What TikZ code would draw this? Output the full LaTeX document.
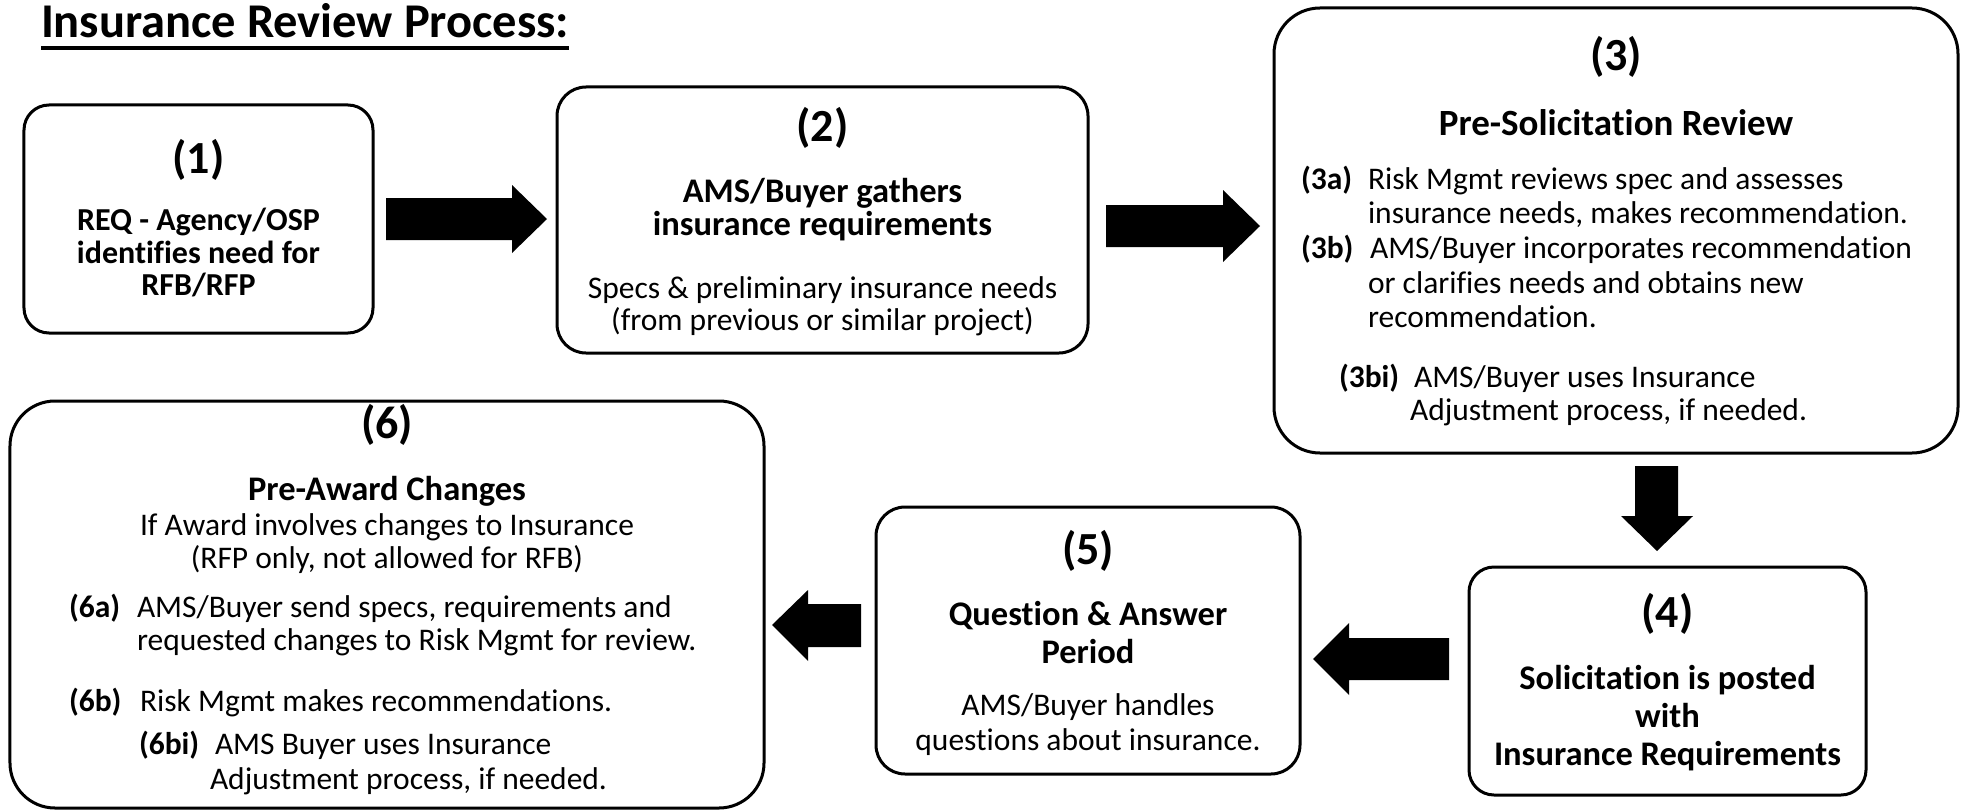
\documentclass[tikz,border=0pt]{standalone}
\usepackage{fontspec}
\setmainfont{Carlito}[Ligatures=NoCommon]
\usetikzlibrary{calc}
\newcommand{\TitleF}{\fontsize{48.5bp}{52bp}\selectfont\bfseries}
\newcommand{\NumF}{\fontsize{46bp}{50bp}\selectfont\bfseries}
\newcommand{\HeadF}{\fontsize{34.5bp}{38bp}\selectfont\bfseries}
\newcommand{\BigHeadF}{\fontsize{37bp}{40bp}\selectfont\bfseries}
\newcommand{\BoldF}{\fontsize{32bp}{35bp}\selectfont\bfseries}
\newcommand{\BodyF}{\fontsize{31.5bp}{34bp}\selectfont}
\newcommand{\LabF}{\fontsize{31.5bp}{34bp}\selectfont\bfseries}
\begin{document}
\begin{tikzpicture}[x=1bp,y=-1bp,
  box/.style={draw=black, line width=3bp, fill=white, inner sep=0, outer sep=0},
  txt/.style={inner sep=0, outer sep=0},
  ctr/.style={txt, anchor=base},
  lft/.style={txt, anchor=base west},
  num/.style={txt, anchor=center, font=\NumF},
  blockarrow/.style={fill=black, draw=none}]
\useasboundingbox (0,0) rectangle (1969,812);
% title
\node[lft, font=\TitleF] (title) at (41,38) {Insurance Review Process:};
\draw[line width=3.5bp] ($(title.base west)+(0,10)$) -- ($(title.base east)+(0,10)$);
% boxes
\node[box, rounded corners=25bp, minimum width=349bp, minimum height=228bp] (b1) at (198.5,219) {};
\node[box, rounded corners=29bp, minimum width=531bp, minimum height=266bp] (b2) at (822.5,220) {};
\node[box, rounded corners=46bp, minimum width=684bp, minimum height=445bp] (b3) at (1616,230.5) {};
\node[box, rounded corners=25bp, minimum width=397bp, minimum height=228bp] (b4) at (1667.5,681) {};
\node[box, rounded corners=29bp, minimum width=424bp, minimum height=267bp] (b5) at (1088,640.5) {};
\node[box, rounded corners=45bp, minimum width=754bp, minimum height=407bp] (b6) at (387,604.5) {};
% block arrows
\fill[blockarrow] (386,198) -- (512,198) -- (512,185) -- (547,219) -- (512,253) -- (512,240) -- (386,240) -- cycle;
\fill[blockarrow] (1106,205) -- (1223,205) -- (1223,190) -- (1260,226) -- (1223,262) -- (1223,247) -- (1106,247) -- cycle;
\fill[blockarrow] (1635,466) -- (1678,466) -- (1678,516) -- (1693,516) -- (1657,551) -- (1621,516) -- (1635,516) -- cycle;
\fill[blockarrow] (1449,638) -- (1349,638) -- (1349,623) -- (1313,659) -- (1349,695) -- (1349,680) -- (1449,680) -- cycle;
\fill[blockarrow] (861,604) -- (808,604) -- (808,590) -- (772,625) -- (808,661) -- (808,647) -- (861,647) -- cycle;
% box 1
\node[num] (n1) at (198.5,160) {(1)};
\node[ctr, font=\BoldF] (t1a) at (198.5,230) {REQ - Agency/OSP};
\node[ctr, font=\BoldF] (t1b) at (198.5,263) {identifies need for};
\node[ctr, font=\BoldF] (t1c) at (198.5,295) {RFB/RFP};
% box 2
\node[num] (n2) at (822.5,128) {(2)};
\node[ctr, font=\HeadF] (t2a) at (822.5,202) {AMS/Buyer gathers};
\node[ctr, font=\HeadF] (t2b) at (822.5,235) {insurance requirements};
\node[ctr, font=\BodyF] (t2c) at (822.5,298) {Specs \& preliminary insurance needs};
\node[ctr, font=\BodyF] (t2d) at (822.5,330) {(from previous or similar project)};
% box 3
\node[num] (n3) at (1616,57) {(3)};
\node[ctr, font=\BigHeadF] (t3h) at (1616,135) {Pre-Solicitation Review};
\node[lft, font=\LabF] (l3a) at (1301,189) {(3a)};
\node[lft, font=\BodyF] (t3a1) at (1368,189) {Risk Mgmt reviews spec and assesses};
\node[lft, font=\BodyF] (t3a2) at (1368,223) {insurance needs, makes recommendation.};
\node[lft, font=\LabF] (l3b) at (1301,258) {(3b)};
\node[lft, font=\BodyF] (t3b1) at (1370,258) {AMS/Buyer incorporates recommendation};
\node[lft, font=\BodyF] (t3b2) at (1368,293) {or clarifies needs and obtains new};
\node[lft, font=\BodyF] (t3b3) at (1368,327) {recommendation.};
\node[lft, font=\LabF] (l3bi) at (1339,387) {(3bi)};
\node[lft, font=\BodyF] (t3c1) at (1414,387) {AMS/Buyer uses Insurance};
\node[lft, font=\BodyF] (t3c2) at (1410,420) {Adjustment process, if needed.};
% box 4
\node[num] (n4) at (1667.5,614) {(4)};
\node[ctr, font=\HeadF] (t4a) at (1667.5,689) {Solicitation is posted};
\node[ctr, font=\HeadF] (t4b) at (1667.5,727) {with};
\node[ctr, font=\HeadF] (t4c) at (1667.5,765) {Insurance Requirements};
% box 5
\node[num] (n5) at (1088,551) {(5)};
\node[ctr, font=\HeadF] (t5a) at (1088,625) {Question \& Answer};
\node[ctr, font=\HeadF] (t5b) at (1088,663) {Period};
\node[ctr, font=\BodyF] (t5c) at (1088,715) {AMS/Buyer handles};
\node[ctr, font=\BodyF] (t5d) at (1088,750) {questions about insurance.};
% box 6
\node[num] (n6) at (387,425) {(6)};
\node[ctr, font=\HeadF] (t6h) at (387,500) {Pre-Award Changes};
\node[ctr, font=\BodyF] (t6i) at (387,535) {If Award involves changes to Insurance};
\node[ctr, font=\BodyF] (t6j) at (387,568) {(RFP only, not allowed for RFB)};
\node[lft, font=\LabF] (l6a) at (69,617) {(6a)};
\node[lft, font=\BodyF] (t6a1) at (137,617) {AMS/Buyer send specs, requirements and};
\node[lft, font=\BodyF] (t6a2) at (137,650) {requested changes to Risk Mgmt for review.};
\node[lft, font=\LabF] (l6b) at (69,711) {(6b)};
\node[lft, font=\BodyF] (t6b) at (140,711) {Risk Mgmt makes recommendations.};
\node[lft, font=\LabF] (l6bi) at (139,754) {(6bi)};
\node[lft, font=\BodyF] (t6c1) at (215,754) {AMS Buyer uses Insurance};
\node[lft, font=\BodyF] (t6c2) at (210,789) {Adjustment process, if needed.};
\end{tikzpicture}
\end{document}
